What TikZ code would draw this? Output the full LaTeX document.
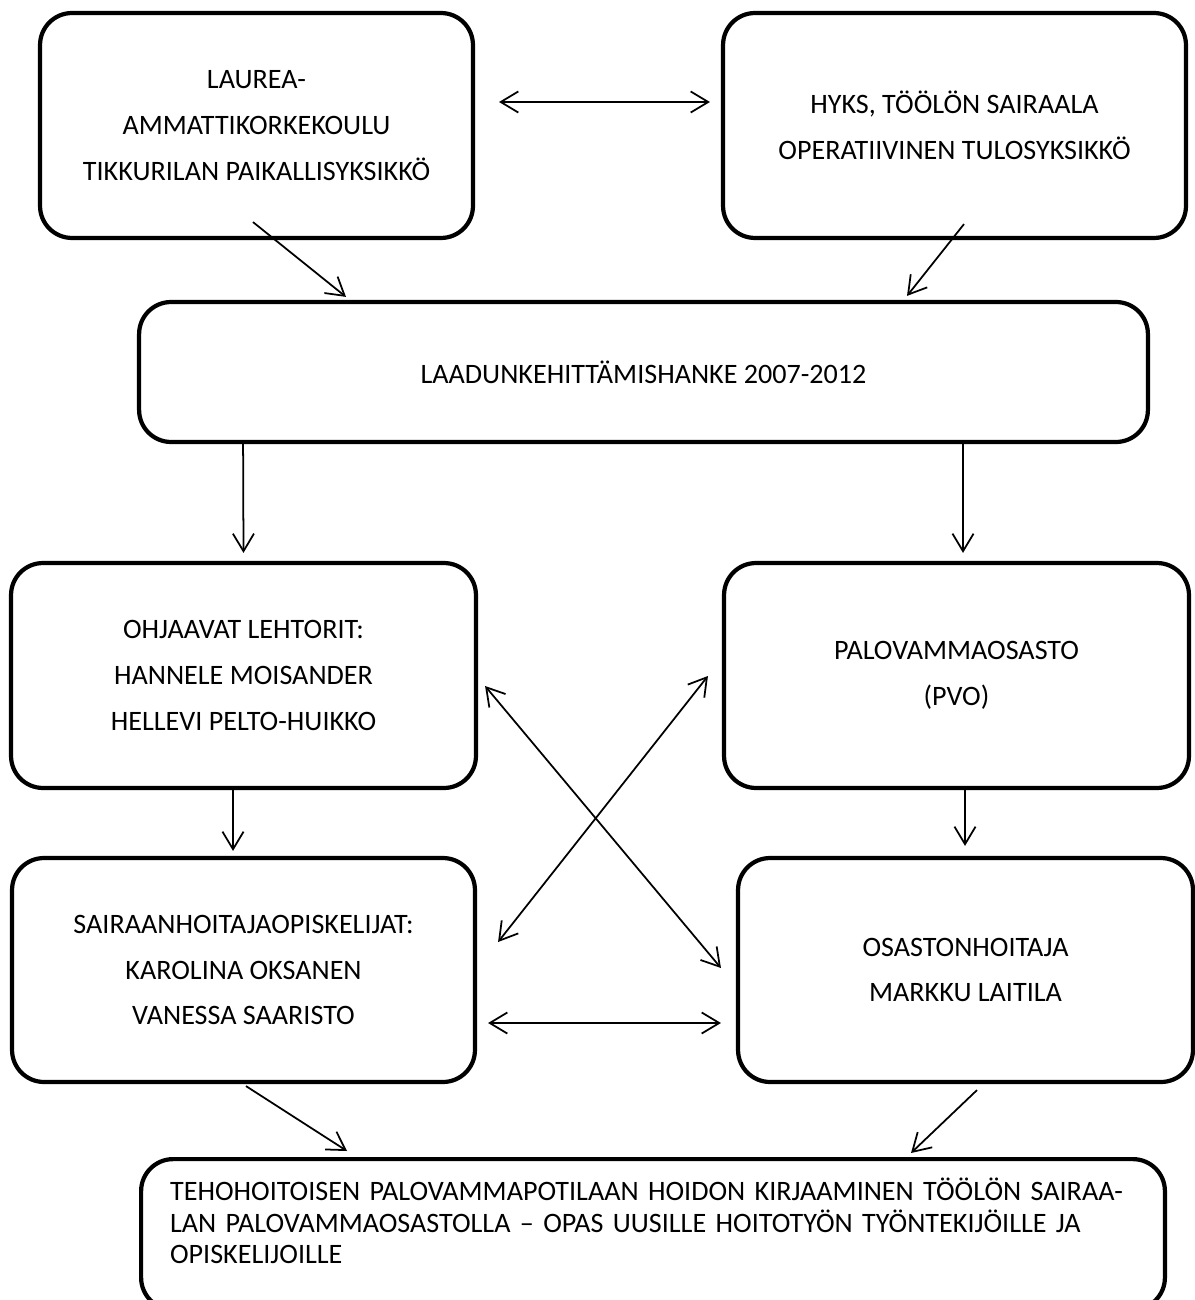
\documentclass[tikz,border=0pt]{standalone}
\usepackage{fontspec}
\setmainfont{Carlito}
\usepackage{tikz}
\usetikzlibrary{arrows.meta}

\begin{document}
\begin{tikzpicture}[x = 0.02cm, y = -0.02cm,
	box/.style = {draw, line width = 2.4pt, rounded corners = 0.64cm, align = center, inner sep = 0pt, font = \fontsize{16}{26}\selectfont},
	link/.style = {line width = 1pt},
	> = {Straight Barb[length = 10pt, width = 12pt]}]
	\useasboundingbox (0,0) rectangle (1195,1300);
	
	\node [box, minimum width = 8.66cm, minimum height = 4.5cm] (lau) at (256.5,125.5) {LAUREA-\\AMMATTIKORKEKOULU\\TIKKURILAN PAIKALLISYKSIKKÖ};
	\node [box, minimum width = 9.26cm, minimum height = 4.5cm] (hyks) at (954.5,125.5) {HYKS, TÖÖLÖN SAIRAALA\\OPERATIIVINEN TULOSYKSIKKÖ};
	\node [box, minimum width = 20.18cm, minimum height = 2.8cm] (laadun) at (643.5,372) {LAADUNKEHITTÄMISHANKE 2007-2012};
	\node [box, minimum width = 9.3cm, minimum height = 4.5cm] (ohj) at (243.5,675.5) {OHJAAVAT LEHTORIT:\\HANNELE MOISANDER\\HELLEVI PELTO-HUIKKO};
	\node [box, minimum width = 9.3cm, minimum height = 4.5cm] (pvo) at (956.5,675.5) {PALOVAMMAOSASTO\\(PVO)};
	\node [box, minimum width = 9.26cm, minimum height = 4.48cm] (sair) at (243.5,970) {SAIRAANHOITAJAOPISKELIJAT:\\KAROLINA OKSANEN\\VANESSA SAARISTO};
	\node [box, minimum width = 9.1cm, minimum height = 4.48cm] (osast) at (965.5,970) {OSASTONHOITAJA\\MARKKU LAITILA};
	\node [box, anchor = north west, align = left, text width = 19.32cm, inner xsep = 0.58cm, inner ysep = 0.38cm, text depth = 1.8cm, font = \fontsize{16}{18}\selectfont] (opas) at (139,1157) {TEHOHOITOISEN PALOVAMMAPOTILAAN HOIDON KIRJAAMINEN TÖÖLÖN SAIRAA-\\LAN PALOVAMMAOSASTOLLA – OPAS UUSILLE HOITOTYÖN TYÖNTEKIJÖILLE JA\\OPISKELIJOILLE};
	
	\draw [link, <->] ([shift = {(24,-23.5)}]lau.east) -- ([shift = {(-11,-23.5)}]hyks.west);
	\draw [link, ->] ([shift = {(-3.5,-18)}]lau.south) -- ([shift = {(-297.5,-3)}]laadun.north);
	\draw [link, ->] ([shift = {(9.5,-16)}]hyks.south) -- ([shift = {(263.5,-4)}]laadun.north);
	
	\draw [link, ->] ([xshift = -8.01cm]laadun.south) -- ([shift = {(0,-8)}]ohj.north);
	\draw [link, ->] ([xshift = 6.39cm]laadun.south) -- ([shift = {(6.5,-8)}]pvo.north);
	
	\draw [link, ->] ([xshift = -0.21cm]ohj.south) -- ([shift = {(-10.5,-5)}]sair.north);
	\draw [link, ->] ([xshift = 0.17cm]pvo.south) -- ([shift = {(-0.5,-10)}]osast.north);
	
	\draw [link, <->] ([shift = {(7,10.5)}]ohj.east) -- ([shift = {(-15,-2)}]osast.west);
	\draw [link, <->] ([shift = {(-14,0.5)}]pvo.west) -- ([shift = {(21,-28)}]sair.east);
	\draw [link, <->] ([shift = {(11,53)}]sair.east) -- ([shift = {(-15,53)}]osast.west);
	
	\draw [link, ->] ([shift = {(2.5,2)}]sair.south) -- ([shift = {(-306,-6)}]opas.north);
	\draw [link, ->] ([shift = {(11.5,6)}]osast.south) -- ([shift = {(258,-4)}]opas.north);
\end{tikzpicture}
\end{document}
